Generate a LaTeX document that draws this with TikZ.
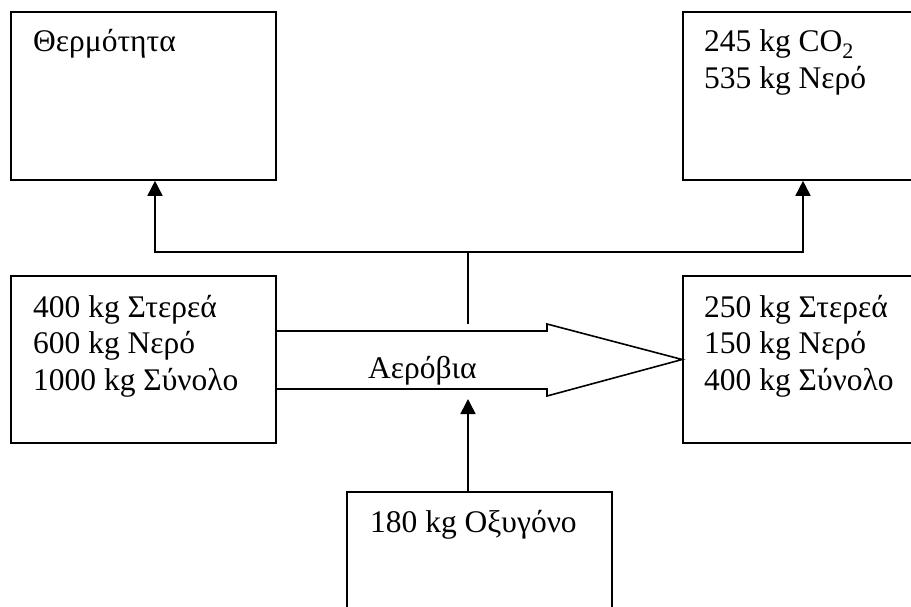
\documentclass[tikz,border=0pt]{standalone}
\usepackage{fontspec}
\setmainfont{Liberation Serif}
\usetikzlibrary{arrows.meta}
\begin{document}
\begin{tikzpicture}[x=1pt,y=-1pt,
  box/.style={draw,line width=1.6pt,rectangle,inner sep=0pt},
  txt/.style={anchor=base west,inner sep=0pt,font=\fontsize{31.5}{36.5}\selectfont,align=left},
  conn/.style={line width=1.6pt},
  arr/.style={conn,-{Triangle[width=15pt,length=15pt]}}]
\useasboundingbox (0,0) rectangle (911,607);
\clip (0,0) rectangle (911,607);
% boxes
\node[box,minimum width=265pt,minimum height=168pt] (heat) at (143.5,96) {};
\node[box,minimum width=247pt,minimum height=168pt] (co2) at (806.5,96) {};
\node[box,minimum width=265pt,minimum height=167pt] (in) at (143.5,359.5) {};
\node[box,minimum width=247pt,minimum height=167pt] (out) at (806.5,359.5) {};
\node[box,minimum width=265pt,minimum height=150pt] (oxy) at (479.5,567) {};
% texts (base anchor = baseline of last line)
\node[txt] (theat) at (33,52) {Θερμότητα};
\node[txt] (tco2) at (704,88.5) {245 kg CO\textsubscript{2}\\535 kg Νερό};
\node[txt] (tin) at (33,390) {400 kg Στερεά\\600 kg Νερό\\1000 kg Σύνολο};
\node[txt] (tout) at (704,390) {250 kg Στερεά\\150 kg Νερό\\400 kg Σύνολο};
\node[txt] (toxy) at (370,532) {180 kg Οξυγόνο};
\node[txt] (taer) at (368,378) {Αερόβια};
% coordinates
\coordinate (J) at (468,252);
\coordinate (hx) at (155,252);
\coordinate (cx) at (803,252);
\coordinate (ptop) at (468,324);
\coordinate (pbot) at (468,399);
\coordinate (ox) at (468,492);
% big arrow
\draw[conn,line join=miter] (in.east |- 0,331) -- (547,331) -- (547,324) -- (out.west) -- (547,396) -- (547,389) -- (in.east |- 0,389);
% connectors
\draw[conn] (ptop) -- (J);
\draw[arr] (J) -| (hx |- heat.south);
\draw[arr] (J) -| (cx |- co2.south);
\draw[arr] (ox |- oxy.north) -- (pbot);
\end{tikzpicture}
\end{document}
